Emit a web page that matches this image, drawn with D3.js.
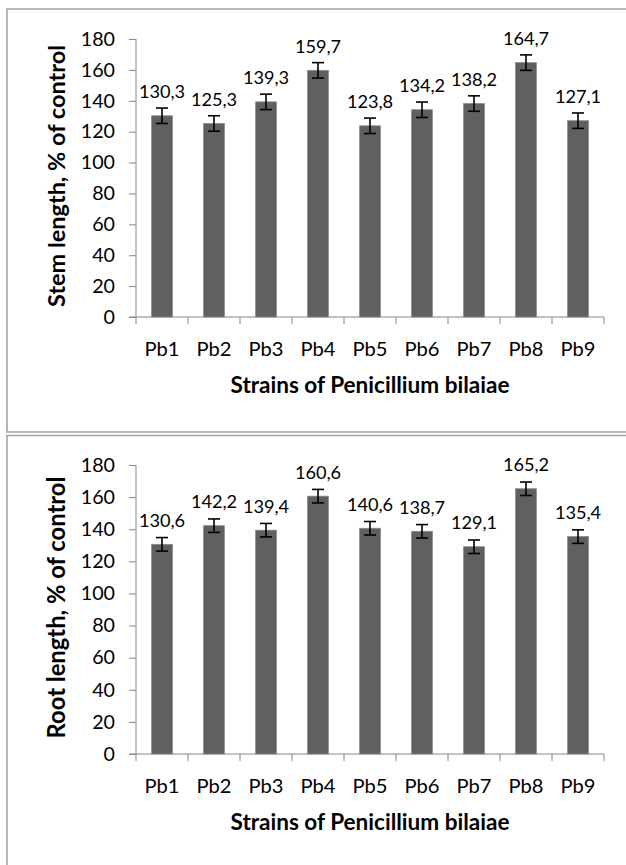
<!DOCTYPE html>
<html>
<head>
<meta charset="utf-8">
<script src="https://cdn.jsdelivr.net/npm/d3@7/dist/d3.min.js"></script>
<style>
  html, body { margin: 0; padding: 0; background: #fff; }
  svg { display: block; }
</style>
</head>
<body>
<svg id="chart" width="626" height="865"></svg>
<script>
const categories = ["Pb1", "Pb2", "Pb3", "Pb4", "Pb5", "Pb6", "Pb7", "Pb8", "Pb9"];
const stemValues = [130.3, 125.3, 139.3, 159.7, 123.8, 134.2, 138.2, 164.7, 127.1];
const stemErrors = [5, 5, 5, 5, 5, 5, 5, 5, 5];
const rootValues = [130.6, 142.2, 139.4, 160.6, 140.6, 138.7, 129.1, 165.2, 135.4];
const rootErrors = [4.2, 4.2, 4.2, 4.2, 4.2, 4.2, 4.2, 4.2, 4.2];
const yTicks = [0, 20, 40, 60, 80, 100, 120, 140, 160, 180];
const xTitle = "Strains of Penicillium bilaiae";
const stemTitle = "Stem length, % of control";
const rootTitle = "Root length, % of control";

const FONT = "Lato, 'Open Sans', sans-serif";
const svg = d3.select("#chart");
svg.append("rect").attr("width", 626).attr("height", 865).attr("fill", "#fff");

// font size that gives a sample string a target width
function sizeFor(text, target, weight) {
  const t = svg.append("text").attr("font-family", FONT).attr("font-size", 20)
    .attr("font-weight", weight || "normal").text(text);
  const w = t.node().getComputedTextLength();
  t.remove();
  return w > 0 ? 20 * target / w : 18;
}
const tickFS = sizeFor("180", 34.3);
const catFS = sizeFor("Pb1", 35);
const valFS = sizeFor("130,3", 46.3);

const panels = [
  { values: stemValues, errors: stemErrors, title: stemTitle,
    frame: { x: 7, y: 9, w: 640, h: 423 }, plotTop: 39, plotBottom: 317 },
  { values: rootValues, errors: rootErrors, title: rootTitle,
    frame: { x: 7, y: 435.5, w: 640, h: 460 }, plotTop: 465, plotBottom: 754 }
];

const plotLeft = 136, plotRight = 604;
const fmt = v => v.toFixed(1).replace(".", ",");

function fitText(sel, target) {
  const node = sel.node();
  const fs = parseFloat(sel.attr("font-size"));
  const w = node.getComputedTextLength();
  if (w > 0) sel.attr("font-size", (fs * target / w).toFixed(2));
}

panels.forEach(p => {
  const g = svg.append("g");
  g.append("rect")
    .attr("x", p.frame.x).attr("y", p.frame.y)
    .attr("width", p.frame.w).attr("height", p.frame.h)
    .attr("fill", "none").attr("stroke", "#a0a0a0").attr("stroke-width", 1.5);

  const x = d3.scaleBand().domain(categories).range([plotLeft, plotRight]).paddingInner(0.6).paddingOuter(0.3);
  const y = d3.scaleLinear().domain([0, 180]).range([p.plotBottom, p.plotTop]);

  // y axis
  const yAxis = g.append("g")
    .attr("transform", `translate(${plotLeft},0)`)
    .call(d3.axisLeft(y).tickValues(yTicks).tickSize(7).tickPadding(14).tickFormat(d3.format("d")));
  yAxis.select(".domain").attr("stroke", "#868686").attr("d", `M-0,${y(180)}V${y(0)}`);
  yAxis.selectAll(".tick line").attr("stroke", "#868686");
  yAxis.selectAll(".tick text")
    .attr("font-family", FONT).attr("font-size", tickFS).attr("fill", "#000");

  // x axis
  const xTickScale = d3.scaleLinear().domain([0, 9]).range([plotLeft, plotRight]);
  const xAxis = g.append("g").attr("transform", `translate(0,${p.plotBottom})`);
  xAxis.append("line").attr("x1", plotLeft - 7).attr("x2", plotRight)
    .attr("stroke", "#868686");
  xAxis.selectAll("line.tk").data(d3.range(10)).join("line").attr("class", "tk")
    .attr("x1", d => xTickScale(d)).attr("x2", d => xTickScale(d))
    .attr("y1", 0).attr("y2", 7).attr("stroke", "#868686");
  xAxis.selectAll("text").data(categories).join("text")
    .attr("x", d => x(d) + x.bandwidth() / 2)
    .attr("y", 39)
    .attr("text-anchor", "middle")
    .attr("font-family", FONT).attr("font-size", catFS).attr("fill", "#000")
    .text(d => d);

  // bars
  const data = categories.map((c, i) => ({ c, v: p.values[i], e: p.errors[i] }));
  g.selectAll("rect.bar").data(data).join("rect").attr("class", "bar")
    .attr("x", d => x(d.c)).attr("width", x.bandwidth())
    .attr("y", d => y(d.v)).attr("height", d => y(0) - y(d.v))
    .attr("fill", "#606060").attr("stroke", "#8a8a8a").attr("stroke-width", 0.8);

  // error bars
  const eb = g.selectAll("g.err").data(data).join("g").attr("class", "err")
    .attr("transform", d => `translate(${x(d.c) + x.bandwidth() / 2},0)`);
  eb.append("line").attr("y1", d => y(d.v + d.e)).attr("y2", d => y(d.v - d.e))
    .attr("stroke", "#000").attr("stroke-width", 1.6);
  eb.append("line").attr("x1", -6).attr("x2", 6).attr("y1", d => y(d.v + d.e)).attr("y2", d => y(d.v + d.e))
    .attr("stroke", "#000").attr("stroke-width", 1.6);
  eb.append("line").attr("x1", -6).attr("x2", 6).attr("y1", d => y(d.v - d.e)).attr("y2", d => y(d.v - d.e))
    .attr("stroke", "#000").attr("stroke-width", 1.6);

  // value labels
  g.selectAll("text.val").data(data).join("text").attr("class", "val")
    .attr("x", d => x(d.c) + x.bandwidth() / 2)
    .attr("y", d => y(d.v) - 17.5)
    .attr("text-anchor", "middle")
    .attr("font-family", FONT).attr("font-size", valFS).attr("fill", "#000")
    .text(d => fmt(d.v));

  // x title
  const xt = g.append("text")
    .attr("x", (plotLeft + plotRight) / 2).attr("y", p.plotBottom + 75.5)
    .attr("text-anchor", "middle")
    .attr("font-family", FONT).attr("font-weight", "bold").attr("font-size", 18).attr("fill", "#000")
    .text(xTitle);
  fitText(xt, 279);

  // y title
  const yc = (p.plotTop + p.plotBottom) / 2 - 2;
  const yt = g.append("text")
    .attr("transform", `translate(65,${yc}) rotate(-90)`)
    .attr("text-anchor", "middle")
    .attr("font-family", FONT).attr("font-weight", "bold").attr("font-size", 18).attr("fill", "#000")
    .text(p.title);
  fitText(yt, 262);
});
</script>
</body>
</html>
